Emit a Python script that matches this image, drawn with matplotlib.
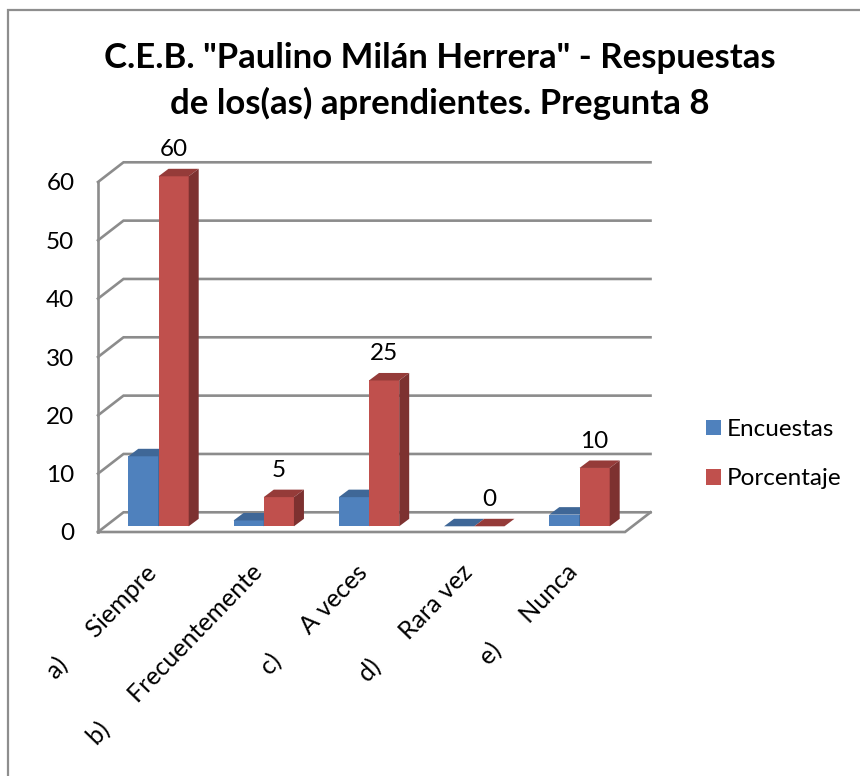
import matplotlib
matplotlib.use('Agg')
import matplotlib.pyplot as plt
from matplotlib.lines import Line2D
from matplotlib.patches import Polygon
from matplotlib.transforms import ScaledTranslation

## Data
## ====
categorias = ['a)      Siempre', 'b)      Frecuentemente', 'c)      A veces', 'd)      Rara vez', 'e)      Nunca']
encuestas = [12, 1, 5, 0, 2]
porcentaje = [60, 5, 25, 0, 10]
ticks = [0, 10, 20, 30, 40, 50, 60]

titulo = 'C.E.B. "Paulino Milán Herrera" - Respuestas\nde los(as) aprendientes. Pregunta 8'

plt.rcParams['font.family'] = ['Lato', 'DejaVu Sans']

W, H = 860, 776

# 3d look: how far back the floor and the bars go, in data units
px_x = 105.25
px_y = 350 / 60
fondo_x = 25.5 / px_x
fondo_y = 19.7 / px_y
prof_x = 10 / px_x
prof_y = 7.5 / px_y
base = 5.7 / px_y
ancho = 30.2 / px_x

AZUL = ('#4F81BD', '#3F6797', '#345680')
ROJO = ('#C0504D', '#953B39', '#7D3130')
GRIS = '#8C8C8C'

fig = plt.figure(figsize=(W / 100, H / 100), dpi=100)

# chart border, only top and left are inside the picture
fig.add_artist(Line2D([8 / W, 8 / W, 1], [0, 1 - 10 / H, 1 - 10 / H], transform=fig.transFigure,
                      color='#8E8E8E', lw=1.6, solid_joinstyle='miter'))

## front plane of the plot, px 98-625 and 182-532
ax = fig.add_axes([98 / W, 1 - 532 / H, 527 / W, 350 / H])
ax.patch.set_alpha(0)
ax.set_xlim((98 - 158.5) / px_x, (625 - 158.5) / px_x)
ax.set_ylim(0, 60)
for s in ax.spines.values():
    s.set_visible(False)

x0, x1 = ax.get_xlim()

## Walls
## =====
for t in ticks:
    ax.plot([x0, x0 + fondo_x, x1 + fondo_x], [t, t + fondo_y, t + fondo_y],
            color=GRIS, lw=1.9, clip_on=False, zorder=1, solid_joinstyle='miter')
ax.plot([x0, x0], [0, 60], color=GRIS, lw=1.9, clip_on=False, zorder=1)
ax.plot([x0, x1, x1 + fondo_x], [0, 0, fondo_y], color=GRIS, lw=1.9, clip_on=False, zorder=1,
        solid_joinstyle='miter')


def barra(x, v, colores, label=None):
    frente, arriba, lado = colores
    ax.bar(x, v, ancho, bottom=base, align='edge', color=frente, label=label, clip_on=False, zorder=3)
    xr = x + ancho
    ytop = base + v
    ax.add_patch(Polygon([(x, ytop), (xr, ytop), (xr + prof_x, ytop + prof_y), (x + prof_x, ytop + prof_y)],
                         facecolor=arriba, edgecolor='none', clip_on=False, zorder=3))
    if v > 0:
        ax.add_patch(Polygon([(xr, base), (xr + prof_x, base + prof_y), (xr + prof_x, ytop + prof_y), (xr, ytop)],
                             facecolor=lado, edgecolor='none', clip_on=False, zorder=3))


## Bars
## ====
for i in range(len(categorias)):
    barra(i - ancho, encuestas[i], AZUL, 'Encuestas' if i == 0 else None)
    barra(i, porcentaje[i], ROJO, 'Porcentaje' if i == 0 else None)
    ax.annotate(str(porcentaje[i]), (i + ancho / 2, porcentaje[i] + base), xytext=(0, 26.5 * 0.72),
                textcoords='offset points', ha='center', va='center', fontsize=17.5, color='black',
                zorder=4, annotation_clip=False)

## Axis labels
## ===========
ax.set_yticks(ticks)
ax.set_yticklabels([str(t) for t in ticks], fontsize=17.5)
ax.tick_params(axis='y', length=0, pad=17)
ax.set_xticks(range(len(categorias)))
ax.set_xticklabels(categorias, fontsize=18, rotation=46, ha='right', rotation_mode='anchor')
ax.tick_params(axis='x', length=0, pad=20.5)
corrimiento = ScaledTranslation(-10 / 72, 0, fig.dpi_scale_trans)
for etiqueta in ax.get_xticklabels():
    etiqueta.set_transform(etiqueta.get_transform() + corrimiento)

handles, labels = ax.get_legend_handles_labels()
fig.legend(handles, labels, loc='upper left', bbox_to_anchor=(706 / W, 1 - 419 / H), frameon=False,
           fontsize=17.5, handlelength=0.62, handleheight=0.62, handletextpad=0.25, labelspacing=1.16,
           borderpad=0, borderaxespad=0)

fig.text(439.5 / W, 1 - 81 / H, titulo, ha='center', va='center', fontsize=25, fontweight='bold',
         linespacing=1.5, color='black')

plt.savefig('out.png', dpi=100)
